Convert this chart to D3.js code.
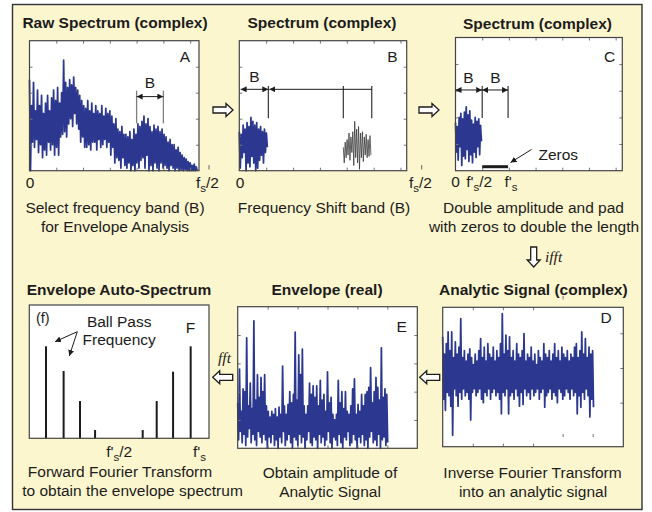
<!DOCTYPE html>
<html>
<head>
<meta charset="utf-8">
<script src="https://cdn.jsdelivr.net/npm/d3@7"></script>
<style>
  html, body { margin: 0; padding: 0; background: #fff; }
  svg { display: block; font-family: "Liberation Sans", Arial, Helvetica, sans-serif; }
</style>
</head>
<body>
<svg id="fig" width="652" height="512"></svg>
<script>
// ---------- data ----------
// Each noisy trace is stored as the upper and lower excursion of the signal in
// consecutive bins; the trace is drawn as a zig-zag between the two.

// (A) raw spectrum, x in frequency units 0 .. 6.3
const rawStep = 0.075;
const rawTop = [3.5, 2.5, 3.4, 2.3, 3.1, 2.5, 2.9, 2.2, 2.6, 2.9, 2.3, 2.8,
  3.1, 2.7, 3.2, 2.6, 3.0, 4.25, 3.4, 3.2, 3.5, 3.3, 3.6, 3.2,
  3.1, 2.9, 2.7, 2.5, 2.4, 2.7, 2.3, 2.6, 2.2, 2.5, 2.3, 2.2,
  2.5, 2.1, 2.4, 2.2, 2.3, 2.1, 1.8, 2.0, 1.6, 1.5, 1.7, 1.4,
  1.4, 1.3, 1.5, 1.2, 1.6, 1.4, 1.8, 1.7, 1.9, 2.1, 1.8, 2.0,
  1.7, 1.5, 1.75, 1.6, 1.7, 1.5, 1.6, 1.4, 1.3, 1.1, 1.2, 1.0,
  1.0, 0.8, 0.9, 0.7, 0.6, 0.5, 0.45, 0.35, 0.3, 0.2, 0.25, 0.15];
const rawBot = [0.0, 1.1, 0.9, 1.2, 0.7, 1.0, 0.5, 0.8, 0.6, 1.1, 0.8, 1.0,
  0.6, 0.9, 0.6, 1.3, 1.4, 1.5, 1.3, 1.8, 2.0, 1.7, 2.2, 1.8,
  1.6, 1.1, 1.3, 0.9, 0.9, 1.0, 0.8, 1.1, 1.1, 0.8, 1.2, 0.9,
  1.0, 1.2, 0.9, 1.1, 0.6, 0.9, 0.3, 0.5, 0.4, 0.1, 0.5, 0.2,
  0.1, 0.3, 0.0, 0.2, 0.0, 0.3, 0.1, 0.4, 0.5, 0.1, 0.6, 0.0,
  0.2, 0.0, 0.3, 0.1, 0.0, 0.3, 0.1, 0.2, 0.1, 0.0, 0.2, 0.1,
  0.0, 0.1, 0.0, 0.05, 0.0, 0.05, 0.0, 0.0, 0.0, 0.0, 0.0, 0.0];
const bandEdges = [4, 5];          // selected band B

// (B) band shifted down to zero frequency, and the original band in grey
const shiftStep = 0.072;
const shiftTop = [1.5, 1.4, 1.75, 1.6, 1.85, 1.7, 2.05, 1.9, 1.75, 1.85, 1.6, 1.7, 1.5, 1.6, 1.45];
const shiftBot = [0.1, 0.5, 0.7, 0.0, 0.3, 0.15, 0.55, 0.3, 0.0, 0.1, 0.4, 0.6, 0.3, 0.7, 0.9];
const bandStart = 3.87, bandStep = 0.071;
const bandTop = [0.9, 1.1, 1.2, 1.45, 1.3, 1.5, 1.9, 1.6, 1.7, 1.45, 1.5, 1.3, 1.4, 1.2, 1.35];
const bandBot = [0.3, 0.5, 0.6, 0.4, 0.7, 0.2, 0.5, 0.3, 0.05, 0.5, 0.35, 0.6, 0.5, 0.55, 0.6];
const shiftEdges = [1.08, 3.87, 4.93];

// (C) doubled band plus zero padding
const padStep = 0.067;
const padTop = [1.8, 1.65, 2.0, 2.15, 1.95, 2.2, 2.4, 2.1, 2.25, 1.9, 1.75, 2.0, 1.85, 1.95, 1.7];
const padBot = [0.7, 0.4, 0.9, 0.2, 0.55, 0.45, 0.8, 0.35, 0.6, 0.3, 0.7, 0.5, 0.9, 0.6, 1.1];
const padEdges = [1.0, 1.97];      // f's/2 and f's

// (D) analytic signal, time axis 0 .. 6
const sigStep = 0.06;
const sigTop = [0.9, 0.4, 0.7, 1.04, 0.5, 1.04, 0.3, 0.75, 0.4, 0.6, 1.42, 0.3,
  0.5, 0.2, 0.4, 0.55, 0.3, 0.1, 0.4, 0.2, 0.5, 0.85, 0.3, 0.6,
  0.2, 0.7, 0.4, 0.3, 0.6, 0.2, 0.5, 0.3, 0.7, 1.57, 0.4, 0.95,
  0.5, 0.9, 0.3, 0.5, 0.2, 0.7, 0.4, 0.3, 0.5, 0.99, 0.2, 0.4,
  0.3, 0.6, 0.2, 0.4, 0.1, 0.5, 0.3, 0.2, 0.7, 0.4, 0.3, 0.5,
  0.2, 0.4, 0.7, 0.3, 0.5, 0.2, 0.6, 0.4, 0.3, 0.5, 0.2, 0.4,
  0.3, 0.6, 0.7, 0.3, 0.5, 1.04, 0.4, 0.85, 0.3, 0.6, 0.4, 0.5];
const sigBot = [-0.9, -1.22, -0.7, -0.8, -1.1, -1.94, -0.6, -0.8, -1.1, -0.7, -0.9, -0.6,
  -0.8, -0.7, -0.9, -1.5, -0.7, -0.6, -0.8, -0.7, -0.6, -0.9, -1.0, -0.7,
  -0.8, -0.6, -0.9, -0.7, -0.6, -0.8, -0.7, -0.9, -1.32, -0.7, -0.8, -0.6,
  -1.32, -0.8, -0.7, -0.9, -0.6, -0.8, -1.1, -0.7, -1.05, -0.6, -0.8, -0.7,
  -0.9, -0.6, -0.8, -0.7, -0.6, -0.9, -0.7, -0.6, -1.13, -0.8, -0.7, -0.6,
  -0.9, -0.7, -0.8, -1.0, -0.6, -0.7, -0.9, -0.8, -0.6, -0.7, -0.9, -0.6,
  -0.8, -0.7, -1.32, -0.8, -1.13, -0.7, -0.9, -0.6, -0.8, -1.41, -0.9, -1.13];

// (E) envelope, time axis 0 .. 6
const envStep = 0.06;
const envTop = [1.6, 2.8, 1.3, 2.1, 2.0, 3.9, 1.5, 2.3, 1.4, 4.5, 1.7, 2.6,
  1.8, 2.5, 2.0, 2.6, 1.5, 1.3, 1.1, 1.3, 1.2, 1.4, 1.1, 1.45,
  1.2, 2.9, 1.5, 1.2, 1.55, 2.0, 1.6, 1.9, 4.1, 1.7, 3.3, 2.6,
  3.5, 1.5, 1.2, 1.5, 2.3, 1.9, 2.2, 1.8, 2.2, 1.5, 2.4, 1.7,
  1.9, 1.3, 2.7, 1.6, 1.8, 1.2, 1.0, 1.2, 2.4, 1.6, 2.0, 1.4,
  2.0, 1.3, 1.2, 1.5, 2.1, 2.45, 1.2, 1.55, 1.3, 1.9, 1.5, 1.9,
  2.0, 2.15, 2.85, 1.6, 2.0, 2.5, 2.15, 1.7, 3.55, 1.8, 2.1, 1.9];
const envBot = [0.3, 0.6, 0.2, 0.5, 0.1, 0.4, 0.7, 0.2, 0.5, 0.3, 0.1, 0.6,
  0.4, 0.2, 0.5, 0.3, 0.0, 0.4, 0.2, 0.5, 0.1, 0.3, 0.0, 0.4,
  0.2, 0.6, 0.1, 0.3, 0.5, 0.2, 0.0, 0.4, 0.3, 0.1, 0.5, 0.2,
  0.4, 0.0, 0.3, 0.6, 0.2, 0.1, 0.4, 0.3, 0.0, 0.5, 0.2, 0.4,
  0.1, 0.3, 0.6, 0.2, 0.0, 0.4, 0.3, 0.1, 0.5, 0.2, 0.0, 0.4,
  0.3, 0.6, 0.1, 0.2, 0.5, 0.3, 0.0, 0.4, 0.2, 0.5, 0.1, 0.3,
  0.0, 0.4, 0.6, 0.2, 0.3, 0.1, 0.5, 0.0, 0.3, 0.4, 0.1, 0.2];

// (F) envelope auto-spectrum lines, frequency as a fraction of f's
const bpfFreq = [0.093, 0.191, 0.282, 0.366, 0.631, 0.709, 0.8, 0.898];
const bpfAmp  = [0.69, 0.505, 0.28, 0.062, 0.062, 0.28, 0.5, 0.69];

// ---------- drawing ----------
const BLUE = "#2c388f";
const INK = "#1c1c1c";
const FS = 15.5;
const TRACE_W = 1.75;
const svg = d3.select("#fig");

const defs = svg.append("defs");
defs.append("marker").attr("id", "tip")
  .attr("viewBox", "0 0 10 10").attr("refX", 10).attr("refY", 5)
  .attr("markerWidth", 6).attr("markerHeight", 6).attr("markerUnits", "userSpaceOnUse")
  .attr("orient", "auto-start-reverse")
  .append("path").attr("d", "M0,0L10,5L0,10Z").attr("fill", INK);

// background card
svg.append("rect").attr("x", 12.5).attr("y", 4.5).attr("width", 629.5).attr("height", 505)
  .attr("fill", "#fcf6cf").attr("stroke", "#333").attr("stroke-width", 1.4);

function text(x, y, s, o = {}) {
  return svg.append("text").attr("x", x).attr("y", y)
    .attr("text-anchor", o.anchor || "middle")
    .attr("font-size", o.size || FS)
    .attr("font-weight", o.bold ? "bold" : null)
    .attr("font-style", o.italic ? "italic" : null)
    .attr("font-family", o.family || null)
    .attr("fill", INK).text(s);
}

function freqLabel(x, y, prime, tail, anchor = "middle") {
  const t = svg.append("text").attr("x", x).attr("y", y).attr("text-anchor", anchor)
    .attr("font-size", FS).attr("fill", INK);
  t.append("tspan").text(prime ? "f'" : "f");
  t.append("tspan").attr("dy", 4).attr("font-size", 11.5).text("s");
  if (tail) t.append("tspan").attr("dy", -4).text(tail);
}

function panel(o) {
  const x = d3.scaleLinear().domain(o.xd).range([o.x0, o.x1]);
  const y = d3.scaleLinear().domain(o.yd).range([o.y1, o.y0]);
  const g = svg.append("g");
  g.append("rect").attr("x", o.x0).attr("y", o.y0)
    .attr("width", o.x1 - o.x0).attr("height", o.y1 - o.y0).attr("fill", "#fff");
  const content = g.append("g");
  const axes = g.append("g");
  return { x, y, g, content, axes, o };
}

function ticks(p, t) {
  const { x, y, o, axes } = p;
  const ts = 3;
  const put = (axis, tr) => axes.append("g").attr("transform", tr)
    .call(axis.tickSize(-ts).tickFormat(""));
  if (t.top) put(d3.axisTop(x).tickValues(t.top), `translate(0,${o.y0})`);
  if (t.bottom) put(d3.axisBottom(x).tickValues(t.bottom), `translate(0,${o.y1})`);
  if (t.left) put(d3.axisLeft(y).tickValues(t.left), `translate(${o.x0},0)`);
  if (t.right) put(d3.axisRight(y).tickValues(t.right), `translate(${o.x1},0)`);
  axes.selectAll(".domain").remove();
  axes.selectAll(".tick line").attr("stroke", "#777").attr("stroke-width", 1);
}

function border(p) {
  const o = p.o;
  p.g.append("rect").attr("x", o.x0).attr("y", o.y0)
    .attr("width", o.x1 - o.x0).attr("height", o.y1 - o.y0)
    .attr("fill", "none").attr("stroke", "#444").attr("stroke-width", 1.2);
}

function zigzag(p, start, step, tops, bots, color, width) {
  const pts = [];
  tops.forEach((t, i) => {
    pts.push([start + i * step, t]);
    pts.push([start + i * step + step / 2, bots[i]]);
  });
  p.content.append("path")
    .attr("d", d3.line().x(d => p.x(d[0])).y(d => p.y(d[1]))(pts))
    .attr("fill", "none").attr("stroke", color).attr("stroke-width", width)
    .attr("stroke-linejoin", "round");
}

function seg(g, x1, y1, x2, y2, o = {}) {
  const l = g.append("line").attr("x1", x1).attr("y1", y1).attr("x2", x2).attr("y2", y2)
    .attr("stroke", o.color || INK).attr("stroke-width", o.width || 1);
  if (o.start) l.attr("marker-start", "url(#tip)");
  if (o.end) l.attr("marker-end", "url(#tip)");
  return l;
}

function hollowArrow(cx, cy, angle) {
  svg.append("path")
    .attr("d", "M-10,-3H3V-6.5L10,0L3,6.5V3H-10Z")
    .attr("transform", `translate(${cx},${cy}) rotate(${angle})`)
    .attr("fill", "#fff").attr("stroke", INK).attr("stroke-width", 1.3)
    .attr("stroke-linejoin", "miter");
}

const unitTicks = [1, 2, 3, 4, 5, 6];
const yTicks = [1, 2, 3, 4];

// ----- A: raw spectrum -----
const pA = panel({ x0: 29.5, x1: 199, y0: 40.7, y1: 170.7, xd: [0, 6.33], yd: [0, 5] });
zigzag(pA, 0, rawStep, rawTop, rawBot, BLUE, TRACE_W);
ticks(pA, { top: unitTicks, bottom: unitTicks, left: yTicks, right: yTicks });
border(pA);
bandEdges.forEach(e => seg(pA.g, pA.x(e), pA.y(3.08), pA.x(e), pA.y(1.82), { color: "#808080", width: 1.3 }));
seg(pA.g, pA.x(bandEdges[0]), pA.y(2.85), pA.x(bandEdges[1]), pA.y(2.85), { start: true, end: true });
pA.g.append("text").attr("x", pA.x(4.5)).attr("y", pA.y(3.17)).attr("text-anchor", "middle")
  .attr("font-size", FS).attr("fill", INK).text("B");
text(pA.x(5.8), 61.7, "A");
text(115, 28, "Raw Spectrum (complex)", { bold: true });
text(pA.x(0) + 0.5, 188, "0");
freqLabel(196, 188, false, "/2", "start");
seg(svg, 209, 165, 209, 169.5, { color: "#666" });
text(115, 212.5, "Select frequency band (B)");
text(115, 232, "for Envelope Analysis");

// ----- B: shifted band -----
const pB = panel({ x0: 239.3, x1: 406.7, y0: 40.7, y1: 170.7, xd: [0, 6.23], yd: [0, 5] });
zigzag(pB, 0, shiftStep, shiftTop, shiftBot, BLUE, TRACE_W);
zigzag(pB, bandStart, bandStep, bandTop, bandBot, "#333", 0.75);
ticks(pB, { top: unitTicks, bottom: unitTicks, left: yTicks, right: yTicks });
border(pB);
shiftEdges.forEach(e => seg(pB.g, pB.x(e), pB.y(3.26), pB.x(e), pB.y(2.02), { color: "#222", width: 1.1 }));
seg(pB.g, pB.x(0.05), pB.y(3.13), pB.x(shiftEdges[0]), pB.y(3.13), { start: true, end: true });
seg(pB.g, pB.x(shiftEdges[0]) + 1, pB.y(3.13), pB.x(shiftEdges[2]), pB.y(3.13), { start: true });
pB.g.append("text").attr("x", pB.x(0.56)).attr("y", pB.y(3.42)).attr("text-anchor", "middle")
  .attr("font-size", FS).attr("fill", INK).text("B");
text(pB.x(5.7), 61.7, "B");
text(322, 28, "Spectrum (complex)", { bold: true });
text(pB.x(0) + 0.7, 188, "0");
freqLabel(409, 188, false, "/2", "start");
seg(svg, 421.7, 165, 421.7, 169.5, { color: "#666" });
text(324, 212.5, "Frequency Shift band (B)");

// ----- C: doubled and zero padded -----
const pC = panel({ x0: 455.5, x1: 622.3, y0: 37.5, y1: 170.7, xd: [0, 6.25], yd: [0, 5] });
zigzag(pC, 0, padStep, padTop, padBot, BLUE, TRACE_W);
ticks(pC, { top: unitTicks, bottom: unitTicks, left: yTicks, right: yTicks });
border(pC);
// band of zeros, drawn just above the baseline
pC.g.append("line").attr("x1", pC.x(padEdges[0])).attr("x2", pC.x(padEdges[1]))
  .attr("y1", pC.y(0) - 4).attr("y2", pC.y(0) - 4)
  .attr("stroke", INK).attr("stroke-width", 3);
seg(pC.g, pC.x(padEdges[0]), pC.y(3.18), pC.x(padEdges[0]), pC.y(1.98), { color: "#222", width: 1.1 });
seg(pC.g, pC.x(padEdges[1]), pC.y(3.18), pC.x(padEdges[1]), pC.y(1.98), { color: "#222", width: 1.1 });
seg(pC.g, pC.x(0), pC.y(3.03), pC.x(padEdges[0]), pC.y(3.03), { start: true, end: true });
seg(pC.g, pC.x(padEdges[0]), pC.y(3.03), pC.x(padEdges[1]), pC.y(3.03), { start: true, end: true });
pC.g.append("text").attr("x", pC.x(0.48)).attr("y", 83).attr("text-anchor", "middle")
  .attr("font-size", FS).attr("fill", INK).text("B");
pC.g.append("text").attr("x", pC.x(1.5)).attr("y", 83).attr("text-anchor", "middle")
  .attr("font-size", FS).attr("fill", INK).text("B");
seg(pC.g, 531.5, 149.5, 510.5, 162.5, { end: true });
text(538.5, 159.5, "Zeros", { anchor: "start" });
text(609.5, 61.7, "C");
text(537.5, 28.5, "Spectrum (complex)", { bold: true });
text(pC.x(0), 187, "0");
freqLabel(pC.x(padEdges[0]) - 3, 187, true, "/2");
freqLabel(pC.x(padEdges[1]) + 3, 187, true, null);
text(533.5, 212.5, "Double amplitude and pad");
text(534, 232, "with zeros to double the length");
hollowArrow(533.7, 257, 90);
text(545, 262, "ifft", { anchor: "start", italic: true, family: "'Liberation Serif', 'Times New Roman', serif", size: 15.5 });

// ----- D: analytic signal -----
const pD = panel({ x0: 442.7, x1: 623.3, y0: 307.3, y1: 446.7, xd: [0, 6], yd: [-2.27, 1.75] });
zigzag(pD, 0, sigStep, sigTop, sigBot, BLUE, TRACE_W);
ticks(pD, { top: [1, 2, 3], bottom: [1, 2, 3], right: [-1, 0, 1] });
border(pD);
[4, 5].forEach(v => seg(svg, pD.x(v), 434, pD.x(v), 437, { color: "#777" }));
seg(svg, pD.x(4), 296, pD.x(4), 299.5, { color: "#777" });
text(606, 322.7, "D");
text(533.3, 295, "Analytic Signal (complex)", { bold: true });
text(532.5, 477.5, "Inverse Fourier Transform");
text(533, 497, "into an analytic signal");
hollowArrow(429.7, 377.3, 180);

// ----- E: envelope -----
const pE = panel({ x0: 237.7, x1: 417.3, y0: 306.7, y1: 448.3, xd: [0, 6], yd: [0, 5] });
zigzag(pE, 0, envStep, envTop, envBot, BLUE, TRACE_W);
ticks(pE, { top: [1, 2, 3, 4, 5], bottom: [1, 2, 3, 4, 5], left: yTicks, right: yTicks });
border(pE);
text(401.7, 331.7, "E");
text(327, 295, "Envelope (real)", { bold: true });
text(330, 477.5, "Obtain amplitude of");
text(330, 497, "Analytic Signal");
hollowArrow(222.7, 377.3, 180);
text(224.5, 362.7, "fft", { italic: true, family: "'Liberation Serif', 'Times New Roman', serif", size: 15.5 });

// ----- F: envelope auto-spectrum -----
const pF = panel({ x0: 29.3, x1: 209, y0: 305, y1: 438.3, xd: [0, 1], yd: [0, 1] });
pF.content.selectAll("line.bpf").data(bpfFreq).join("line").attr("class", "bpf")
  .attr("x1", d => pF.x(d)).attr("x2", d => pF.x(d))
  .attr("y1", pF.y(0)).attr("y2", (d, i) => pF.y(bpfAmp[i]))
  .attr("stroke", INK).attr("stroke-width", 2);
border(pF);
text(36, 323.3, "(f)", { anchor: "start", size: 14.5 });
text(119.2, 326.7, "Ball Pass");
text(119.2, 345, "Frequency");
text(190.5, 333, "F");
seg(svg, 77.3, 331.7, 55, 341.7, { end: true });
seg(svg, 77.3, 331.7, 69.3, 356, { end: true });
freqLabel(pF.x(0.5), 456.5, true, "/2");
freqLabel(193, 456.5, true, null, "start");
text(120, 476.5, "Forward Fourier Transform");
text(132.5, 496, "to obtain the envelope spectrum");
text(119, 295, "Envelope Auto-Spectrum", { bold: true });

// ----- flow arrows, top row -----
hollowArrow(223, 110, 0);
hollowArrow(429, 110, 0);
</script>
</body>
</html>
